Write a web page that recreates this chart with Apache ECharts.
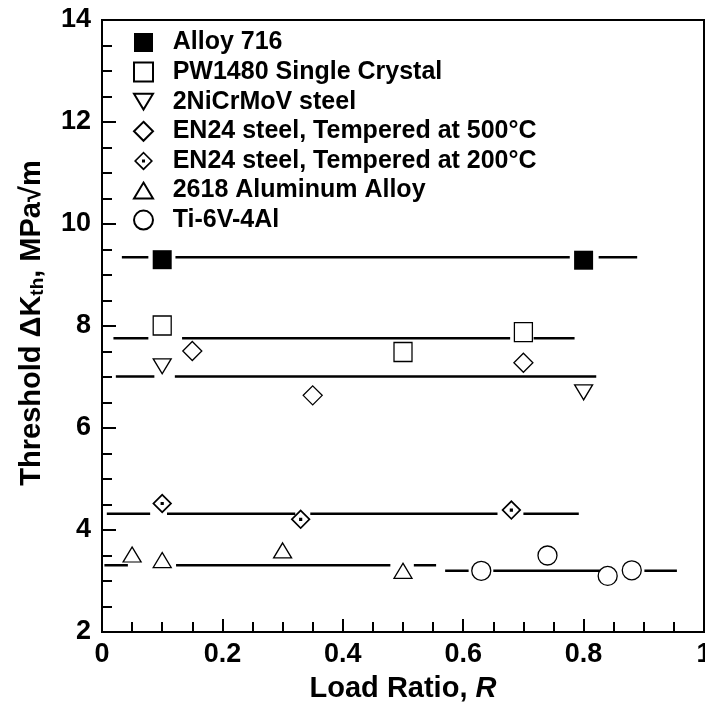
<!DOCTYPE html>
<html>
<head>
<meta charset="utf-8">
<script src="https://cdn.jsdelivr.net/npm/echarts@6/dist/echarts.min.js"></script>
<style>
  html, body { margin: 0; padding: 0; background: #fff; }
  #chart { width: 705px; height: 704px; }
</style>
</head>
<body>
<div id="chart"></div>
<script>
// measured points, [R, dKth]
const alloy716 = [[0.1, 9.30], [0.8, 9.29]];
const pw1480 = [[0.1, 8.01], [0.5, 7.49], [0.7, 7.88]];
const niCrMoV = [[0.1, 7.21], [0.8, 6.70]];
const en24At500 = [[0.15, 7.51], [0.35, 6.64], [0.7, 7.28]];
const en24At200 = [[0.1, 4.52], [0.33, 4.21], [0.68, 4.39]];
const al2618 = [[0.05, 3.52], [0.1, 3.41], [0.3, 3.60], [0.5, 3.20]];
const ti64 = [[0.63, 3.20], [0.74, 3.50], [0.84, 3.10], [0.88, 3.21]];

// mean threshold lines: level and the drawn pieces (broken around symbols)
const fitLevels = [9.35, 7.76, 7.01, 4.32, 3.31, 3.20];
const fitPieces = [
  [[0.033, 0.077], [0.122, 0.777], [0.825, 0.889]],
  [[0.019, 0.077], [0.133, 0.678], [0.717, 0.785]],
  [[0.023, 0.087], [0.121, 0.821]],
  [[0.008, 0.080], [0.108, 0.321], [0.346, 0.657], [0.700, 0.792]],
  [[0.004, 0.043], [0.123, 0.479], [0.518, 0.555]],
  [[0.570, 0.609], [0.650, 0.835], [0.901, 0.955]]
];

const xTicks = [0, 1, 0.2];
const yTicks = [2, 14, 2];

const FONT = "'Liberation Sans', Arial, sans-serif";
const chart = echarts.init(document.getElementById('chart'));

// diamond outline with a dot in the middle
const dotDiamond = 'path://M50 0 L100 50 L50 100 L0 50 Z M50 12 L12 50 L50 88 L88 50 Z M42 42 L58 42 L58 58 L42 58 Z';
const triDown = 'path://M0 0 L18 0 L9 15 Z';
const triUp = 'path://M9 0 L18 15 L0 15 Z';

function hollow(name, data, symbol, size, extra) {
  return Object.assign({
    name: name,
    type: 'scatter',
    data: data,
    symbol: symbol,
    symbolSize: size,
    z: 5,
    itemStyle: { color: '#fff', borderColor: '#000', borderWidth: 1.3, opacity: 1 }
  }, extra || {});
}

const fitSeries = fitLevels.map((lvl, i) => {
  const d = [];
  fitPieces[i].forEach((p, k) => {
    if (k > 0) d.push(['-', '-']);
    d.push([p[0], lvl], [p[1], lvl]);
  });
  return {
    type: 'line',
    data: d,
    symbol: 'none',
    connectNulls: false,
    silent: true,
    z: 2,
    lineStyle: { color: '#000', width: 2.5 }
  };
});

const names = ['Alloy 716', 'PW1480 Single Crystal', '2NiCrMoV steel',
  'EN24 steel, Tempered at 500°C', 'EN24 steel, Tempered at 200°C',
  '2618 Aluminum Alloy', 'Ti-6V-4Al'];

const option = {
  animation: false,
  backgroundColor: '#fff',
  grid: {
    left: 102, right: 1, top: 20, bottom: 72,
    containLabel: false, outerBoundsMode: 'none',
    show: true, borderColor: '#000', borderWidth: 2
  },
  legend: {
    data: [
      names[0], names[1],
      { name: names[2], icon: triDown },
      names[3],
      { name: names[4], icon: dotDiamond, itemStyle: { color: '#000', borderWidth: 0 } },
      { name: names[5], icon: triUp },
      names[6]
    ],
    orient: 'vertical',
    left: 128,
    top: 25,
    itemWidth: 19,
    itemHeight: 19,
    itemGap: 4.6,
    textStyle: { fontFamily: FONT, fontSize: 25, fontWeight: 'bold', color: '#000', lineHeight: 24, padding: [0, 0, 0, 14.7] }
  },
  xAxis: {
    type: 'value',
    min: xTicks[0], max: xTicks[1], interval: xTicks[2],
    name: '{a|Load Ratio, }{i|R}',
    nameLocation: 'middle',
    nameGap: 42,
    nameTextStyle: {
      rich: {
        a: { fontFamily: FONT, fontSize: 29, fontWeight: 'bold', color: '#000' },
        i: { fontFamily: FONT, fontSize: 29, fontWeight: 'bold', fontStyle: 'italic', color: '#000' }
      }
    },
    splitLine: { show: false },
    axisLine: { lineStyle: { color: '#000', width: 2 } },
    axisTick: { inside: true, length: 13, lineStyle: { color: '#000', width: 2 } },
    minorTick: { show: true, splitNumber: 4, length: 10, lineStyle: { color: '#000', width: 2 } },
    axisLabel: { fontFamily: FONT, fontSize: 27, fontWeight: 'bold', color: '#000', margin: 9 }
  },
  yAxis: {
    type: 'value',
    min: yTicks[0], max: yTicks[1], interval: yTicks[2],
    name: '{a|Threshold \u0394K}{s|th}{a|, MPa\u221Am}',
    nameLocation: 'middle',
    nameGap: 55,
    nameRotate: 90,
    nameTextStyle: {
      padding: [0, 0, 0, 6],
      rich: {
        a: { fontFamily: FONT, fontSize: 29, fontWeight: 'bold', color: '#000' },
        s: { fontFamily: FONT, fontSize: 19, fontWeight: 'bold', color: '#000', padding: [12, 0, 0, 0] }
      }
    },
    splitLine: { show: false },
    axisLine: { lineStyle: { color: '#000', width: 2 } },
    axisTick: { inside: true, length: 14, lineStyle: { color: '#000', width: 2 } },
    minorTick: { show: true, splitNumber: 4, length: 10, lineStyle: { color: '#000', width: 2 } },
    axisLabel: { fontFamily: FONT, fontSize: 27, fontWeight: 'bold', color: '#000', margin: 11 }
  },
  series: fitSeries.concat([
    { name: names[0], type: 'scatter', data: alloy716, symbol: 'rect', symbolSize: 19, z: 5,
      itemStyle: { color: '#000', opacity: 1 } },
    hollow(names[1], pw1480, 'rect', [18, 19]),
    hollow(names[2], niCrMoV, 'triangle', [18, 15], { symbolRotate: 180 }),
    hollow(names[3], en24At500, 'diamond', 19),
    { name: names[4], type: 'scatter', data: en24At200, symbol: dotDiamond, symbolSize: 20, z: 5,
      itemStyle: { color: '#000', opacity: 1 } },
    hollow(names[5], al2618, 'triangle', [18, 15]),
    hollow(names[6], ti64, 'circle', 19)
  ])
};

chart.setOption(option);
</script>
</body>
</html>
